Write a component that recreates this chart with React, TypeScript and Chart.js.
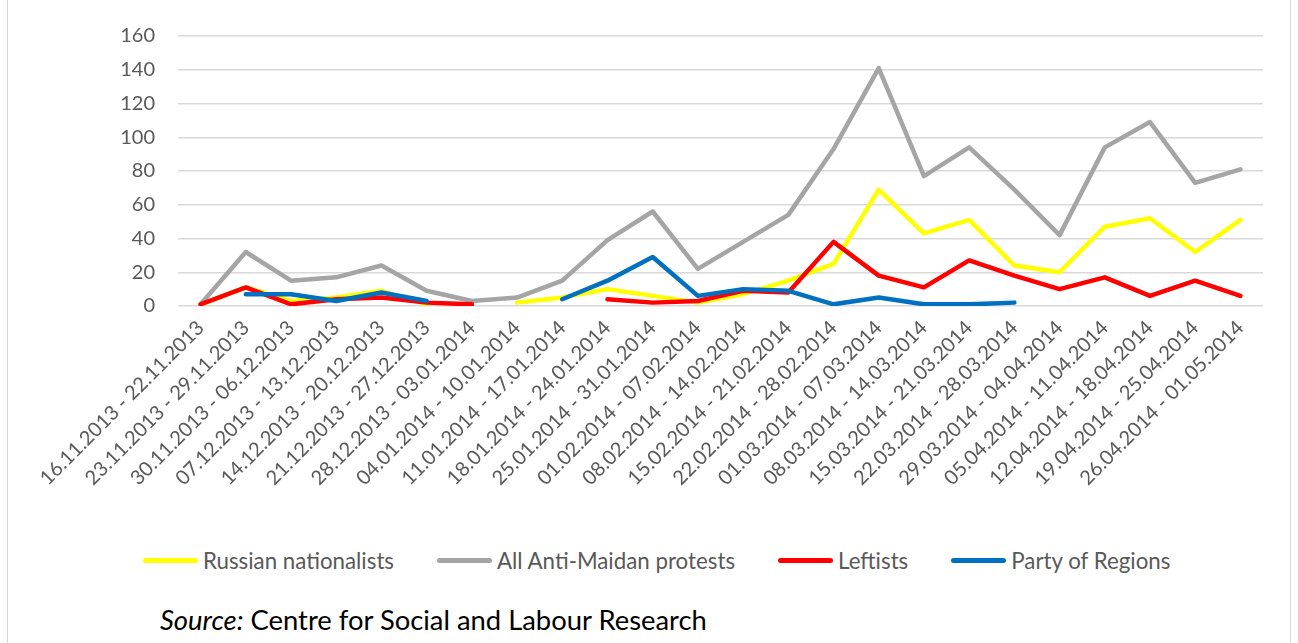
import React, { useEffect, useRef } from "react";
import { Chart, registerables } from "chart.js";

Chart.register(...registerables);

const categories = [
  "16.11.2013 - 22.11.2013",
  "23.11.2013 - 29.11.2013",
  "30.11.2013 - 06.12.2013",
  "07.12.2013 - 13.12.2013",
  "14.12.2013 - 20.12.2013",
  "21.12.2013 - 27.12.2013",
  "28.12.2013 - 03.01.2014",
  "04.01.2014 - 10.01.2014",
  "11.01.2014 - 17.01.2014",
  "18.01.2014 - 24.01.2014",
  "25.01.2014 - 31.01.2014",
  "01.02.2014 - 07.02.2014",
  "08.02.2014 - 14.02.2014",
  "15.02.2014 - 21.02.2014",
  "22.02.2014 - 28.02.2014",
  "01.03.2014 - 07.03.2014",
  "08.03.2014 - 14.03.2014",
  "15.03.2014 - 21.03.2014",
  "22.03.2014 - 28.03.2014",
  "29.03.2014 - 04.04.2014",
  "05.04.2014 - 11.04.2014",
  "12.04.2014 - 18.04.2014",
  "19.04.2014 - 25.04.2014",
  "26.04.2014 - 01.05.2014",
];

const russianNationalists = [1, 11, 3, 5, 9, 1, null, 2, 5, 10, 6, 2, 7, 15, 25, 69, 43, 51, 24, 20, 47, 52, 32, 51];
const allAntiMaidan = [1, 32, 15, 17, 24, 9, 3, 5, 15, 39, 56, 22, 38, 54, 93, 141, 77, 94, 69, 42, 94, 109, 73, 81];
const leftists = [1, 11, 1, 4, 5, 2, 1, null, null, 4, 2, 3, 9, 8, 38, 18, 11, 27, 18, 10, 17, 6, 15, 6];
const partyOfRegions = [null, 7, 7, 3, 8, 3, null, null, 4, 15, 29, 6, 10, 9, 1, 5, 1, 1, 2, null, null, null, null, null];

const seriesNames = ["Russian nationalists", "All Anti-Maidan protests", "Leftists", "Party of Regions"];
const seriesColors = ["#FFFF00", "#A5A5A5", "#FF0000", "#0070C0"];
const seriesValues = [russianNationalists, allAntiMaidan, leftists, partyOfRegions];

const yMin = 0;
const yMax = 160;
const yStep = 20;

const sourceLabel = "Source:";
const sourceText = " Centre for Social and Labour Research";

const FONT = "Lato, 'Open Sans', sans-serif";

export default function App() {
  const canvasRef = useRef<HTMLCanvasElement | null>(null);

  useEffect(() => {
    const canvas = canvasRef.current;
    if (!canvas) return;
    const canvasHeight = 520;
    const chart = new Chart(canvas, {
      type: "line",
      data: {
        labels: categories,
        datasets: seriesValues.map((vals, i) => ({
          label: seriesNames[i],
          data: vals,
          borderColor: seriesColors[i],
          backgroundColor: seriesColors[i],
          borderWidth: 4.5,
          borderCapStyle: "round",
          borderJoinStyle: "round",
          pointRadius: 0,
          pointHoverRadius: 0,
          tension: 0,
          spanGaps: false,
          fill: false,
          order: seriesValues.length - i,
        })),
      },
      options: {
        responsive: false,
        animation: false,
        devicePixelRatio: 1,
        layout: { padding: { top: 36, right: 35, left: 0, bottom: 0 } },
        plugins: {
          legend: { display: false },
          tooltip: { enabled: false },
        },
        scales: {
          x: {
            type: "category",
            offset: true,
            grid: { display: false, drawTicks: false },
            border: { display: false },
            ticks: {
              autoSkip: false,
              maxRotation: 45,
              minRotation: 45,
              padding: 10,
              color: "#595959",
              font: { family: FONT, size: 20 },
            },
            afterFit: (scale: any) => {
              scale.height = canvasHeight - 306;
            },
          },
          y: {
            min: yMin,
            max: yMax,
            grid: { color: "#d9d9d9", lineWidth: 1.5, drawTicks: false },
            border: { display: false },
            ticks: {
              stepSize: yStep,
              padding: 23,
              color: "#595959",
              font: { family: FONT, size: 20 },
            },
            afterFit: (scale: any) => {
              scale.width = 178;
            },
          },
        },
      },
    });
    return () => chart.destroy();
  }, []);

  return (
    <div
      style={{
        position: "fixed",
        left: 0,
        top: 0,
        width: 1298,
        height: 643,
        background: "#fff",
        overflow: "hidden",
        fontFamily: FONT,
      }}
    >
      <div
        style={{
          position: "absolute",
          left: 7,
          top: -10,
          width: 1284,
          height: 700,
          border: "1.5px solid #d9d9d9",
          boxSizing: "border-box",
        }}
      />
      <canvas
        ref={canvasRef}
        width={1298}
        height={520}
        style={{ position: "absolute", left: 0, top: 0, width: 1298, height: 520 }}
      />
      <div
        style={{
          position: "absolute",
          left: 143,
          top: 546,
          display: "flex",
          alignItems: "center",
          height: 28,
        }}
      >
        {seriesNames.map((name, i) => (
          <div key={name} style={{ display: "flex", alignItems: "center", marginRight: 43 }}>
            <div
              style={{
                width: 55,
                height: 5,
                borderRadius: 3,
                background: seriesColors[i],
                marginRight: 5,
              }}
            />
            <span style={{ fontSize: 22.3, color: "#595959", whiteSpace: "nowrap" }}>{name}</span>
          </div>
        ))}
      </div>
      <div
        style={{
          position: "absolute",
          left: 160,
          top: 602,
          fontSize: 27.4,
          color: "#000",
          whiteSpace: "pre",
          lineHeight: "36px",
        }}
      >
        <i>{sourceLabel}</i>
        {sourceText}
      </div>
    </div>
  );
}
